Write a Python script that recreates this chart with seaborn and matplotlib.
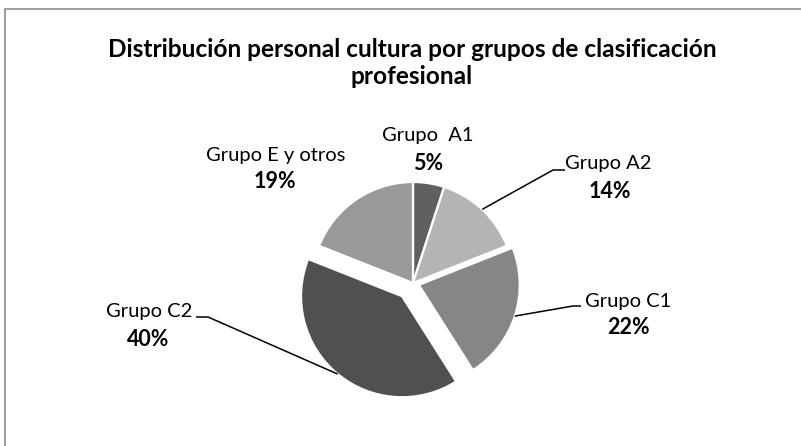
import numpy as np
import matplotlib
matplotlib.use("Agg")
import matplotlib.pyplot as plt
import seaborn as sns

# datos del gráfico
grupos = ["Grupo  A1", "Grupo A2", "Grupo C1", "Grupo C2", "Grupo E y otros"]
porcentajes = [5, 14, 22, 40, 19]
etiquetas_pct = ["5%", "14%", "22%", "40%", "19%"]
titulo = "Distribución personal cultura por grupos de clasificación\nprofesional"

sns.set_theme(style="white")
plt.rcParams["font.family"] = ["Lato", "DejaVu Sans"]

W, H = 801, 446
fig = plt.figure(figsize=(W / 100, H / 100), dpi=100)
ax = fig.add_axes([0, 0, 1, 1])


def px(x, y):
    # pasar coordenadas de pantalla (y hacia abajo) a datos
    return x, H - y


# ─────────────────────────────────────────────
# Tarta
# ─────────────────────────────────────────────
centro = px(413, 283)
radio = 101
explode_frac = [0, 0, 0.06, 0.17, 0]
colores = ["#606060", "#b4b4b4", "#868686", "#505050", "#999999"]

wedges, _ = ax.pie(porcentajes, colors=colores, startangle=90, counterclock=False,
                   center=centro, radius=radio,
                   explode=[e * radio for e in explode_frac],
                   wedgeprops=dict(edgecolor="white", linewidth=1.6))

# pie() fija sus propios límites: los rehacemos en píxeles
ax.set_xlim(0, W)
ax.set_ylim(0, H)
ax.set_aspect("equal")
ax.axis("off")

# posiciones de las etiquetas (nombre, porcentaje)
pos_nombre = [(428, 135), (608, 164), (628, 301), (149, 312), (276, 156)]
pos_pct = [(428, 163), (610, 192), (628, 328), (148, 339), (275, 182)]
for i in range(len(grupos)):
    ax.text(*px(*pos_nombre[i]), grupos[i], ha="center", va="center",
            fontsize=14.5, color="black")
    ax.text(*px(*pos_pct[i]), etiquetas_pct[i], ha="center", va="center",
            fontsize=15.5, fontweight="bold", color="black")

# líneas guía: desde el borde de la porción hasta el codo y tramo horizontal
guias = {1: [(553, 170), (565, 170)],
         2: [(573, 306), (581, 306)],
         3: [(208, 317), (196, 317)]}
for i, puntos in guias.items():
    w = wedges[i]
    ang = np.deg2rad(0.5 * (w.theta1 + w.theta2))
    x0 = w.center[0] + w.r * np.cos(ang)
    y0 = w.center[1] + w.r * np.sin(ang)
    xs = [x0] + [px(*p)[0] for p in puntos]
    ys = [y0] + [px(*p)[1] for p in puntos]
    ax.plot(xs, ys, color="black", linewidth=1.1, solid_capstyle="butt")

# título
ax.text(*px(412, 63), titulo, ha="center", va="center", fontsize=17.6,
        fontweight="bold", color="black", linespacing=1.22)

# marco del gráfico (solo borde superior e izquierdo visibles)
ax.plot([4.5, 4.5, W], [0, H - 8.5, H - 8.5], color="#8c8c8c", linewidth=1.2,
        solid_joinstyle="miter")

fig.savefig("out.png", dpi=100)
